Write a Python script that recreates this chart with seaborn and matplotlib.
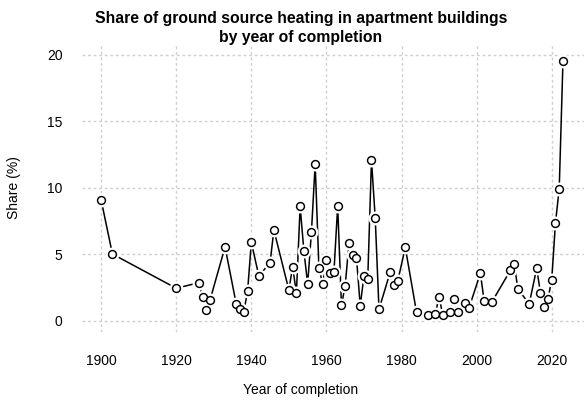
import matplotlib
matplotlib.use("Agg")
import matplotlib.pyplot as plt
import seaborn as sns
import pandas as pd

years = [1900, 1903, 1920, 1926, 1927, 1928, 1929, 1933, 1936, 1937, 1938, 1939, 1940, 1942,
         1945, 1946, 1950, 1951, 1952, 1953, 1954, 1955, 1956, 1957, 1958, 1959, 1960, 1961,
         1962, 1963, 1964, 1965, 1966, 1967, 1968, 1969, 1970, 1971, 1972, 1973, 1974, 1977,
         1978, 1979, 1981, 1984, 1987, 1989, 1990, 1991, 1993, 1994, 1995, 1997, 1998, 2001,
         2002, 2004, 2009, 2010, 2011, 2014, 2016, 2017, 2018, 2019, 2020, 2021, 2022, 2023]
share = [9.08, 5.02, 2.44, 2.86, 1.76, 0.80, 1.56, 5.55, 1.23, 0.85, 0.68, 2.23, 5.90, 3.36,
         4.37, 6.83, 2.31, 4.07, 2.06, 8.60, 5.24, 2.76, 6.64, 11.79, 3.99, 2.76, 4.57, 3.57,
         3.69, 8.63, 1.16, 2.64, 5.82, 4.94, 4.74, 1.13, 3.36, 3.11, 12.10, 7.70, 0.86, 3.67,
         2.66, 2.99, 5.52, 0.63, 0.43, 0.50, 1.81, 0.40, 0.68, 1.61, 0.65, 1.31, 0.98, 3.57,
         1.51, 1.38, 3.79, 4.27, 2.39, 1.26, 3.94, 2.11, 1.06, 1.64, 3.07, 7.36, 9.92, 19.55]
x_ticks = [1900, 1920, 1940, 1960, 1980, 2000, 2020]
y_ticks = [0, 5, 10, 15, 20]

title = "Share of ground source heating in apartment buildings\nby year of completion"
x_label = "Year of completion"
y_label = "Share (%)"

df = pd.DataFrame({"year": years, "share": share})

sns.set_style("white")
plt.rcParams["font.family"] = ["Liberation Sans", "DejaVu Sans"]

fig = plt.figure(figsize=(5.84, 4.03), dpi=100)
ax = fig.add_axes([82 / 584, 71 / 403, 502 / 584, 287 / 403])

sns.lineplot(data=df, x="year", y="share", color="black", linewidth=1.1, ax=ax, zorder=2)
sns.scatterplot(data=df, x="year", y="share", s=100, color="white", edgecolor="white",
                linewidth=0, ax=ax, zorder=3)
sns.scatterplot(data=df, x="year", y="share", s=32, facecolor="white", edgecolor="black",
                linewidth=1.05, ax=ax, zorder=4)

ax.set_xlim(1894.9, 2028.6)
ax.set_ylim(-0.85, 20.75)
ax.set_xticks(x_ticks)
ax.set_yticks(y_ticks)
ax.set_xticklabels([str(v) for v in x_ticks])
ax.set_yticklabels([str(v) for v in y_ticks])

for v in x_ticks:
    ax.axvline(v, color="#cfcfcf", linewidth=1.0, linestyle=(0, (2, 2)), zorder=1)
for v in y_ticks:
    ax.axhline(v, color="#cfcfcf", linewidth=1.0, linestyle=(0, (2, 2)), zorder=1)

for s in ax.spines.values():
    s.set_visible(False)
ax.tick_params(axis="both", length=0, labelsize=10, colors="black")
ax.tick_params(axis="x", pad=16)
ax.tick_params(axis="y", pad=14)

ax.set_xlabel(x_label, fontsize=10, color="black")
ax.set_ylabel(y_label, fontsize=10, color="black")
ax.xaxis.set_label_coords((301 - 82) / 502, -(383 - 332) / 287 + 0.0)
ax.yaxis.set_label_coords(-(82 - 21) / 502, (403 - 188 - 71) / 287)

fig.text(301 / 584, 1 - 28 / 403, title, ha="center", va="center", fontsize=11.3,
         fontweight="bold", linespacing=1.3, color="black")

fig.savefig("out.png", dpi=100)
